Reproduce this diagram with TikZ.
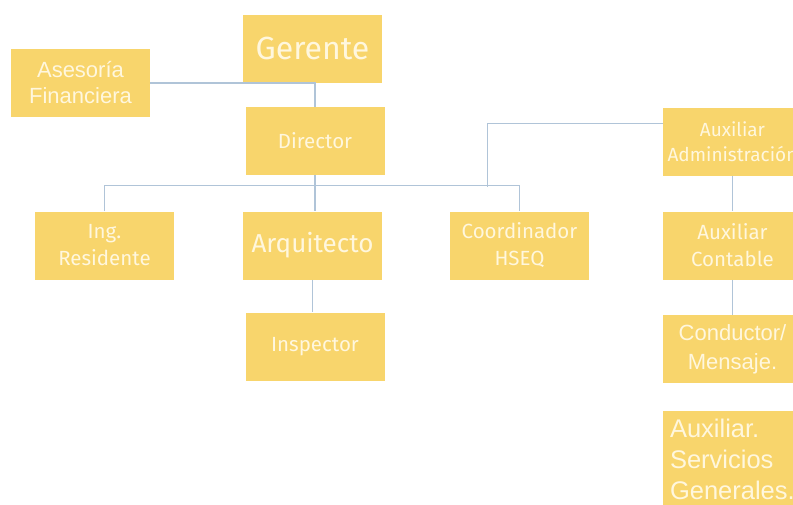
\documentclass[tikz,border=0pt]{standalone}
\usepackage{fontspec}
\newfontfamily\firafont{Fira Sans}
\newfontfamily\arialfont{Liberation Sans}
\definecolor{boxyellow}{RGB}{248,213,108}
\definecolor{boxtext}{RGB}{255,247,222}
\definecolor{linkblue}{RGB}{176,196,216}

\begin{document}
\begin{tikzpicture}[x=1pt,y=-1pt]
				\tikzset{post/.style={
						rectangle,
						fill=boxyellow,
						text=boxtext,
						inner sep=0pt,
						minimum width=139pt,
						minimum height=68pt,
						align=center,
						font=\firafont\fontsize{20.5}{27}\selectfont
					},
					link/.style={draw=linkblue, line width=1.1pt}}
				
				\useasboundingbox (0,0) rectangle (793,504);
				\clip (0,0) rectangle (793,504);
				
				%% MANAGEMENT
				\node[post, font=\firafont\fontsize{32}{36}\selectfont] (Gerente) at (312.5,48.5) {Gerente};
				\node[post, font=\arialfont\fontsize{22}{26}\selectfont] (Asesoria) at (80.5,83) {Asesoría\\Financiera};
				\node[post] (Director) at (315,141) {Director};
				
				%% SITE
				\node[post] (IngRes) at (104.5,245.5) {Ing.\\Residente};
				\node[post, font=\firafont\fontsize{26}{30}\selectfont] (Arquitecto) at (312.5,245.5) {Arquitecto};
				\node[post] (Inspector) at (315,346.5) {Inspector};
				\node[post] (HSEQ) at (519.5,245.5) {Coordinador\\HSEQ};
				
				%% OFFICE
				\node[post, font=\firafont\fontsize{19}{25}\selectfont] (AuxAdmin) at (732.5,141.5) {Auxiliar\\Administración};
				\node[post] (AuxCont) at (732.5,245.5) {Auxiliar\\Contable};
				\node[post, font=\arialfont\fontsize{22}{29}\selectfont] (Conductor) at (732.5,349) {Conductor/\\Mensaje.};
				\node[post, anchor=north, minimum height=0pt, inner xsep=7pt, inner ysep=8pt, text width=125pt, align=left, font=\arialfont\fontsize{25.5}{31}\selectfont] (AuxServ) at (732.5,411) {Auxiliar.\\Servicios\\Generales.};
				
				\draw[link] (Director.north |- Gerente.south) -- (Director.north);
				\draw[link] (Asesoria.east) -| (Director.north);
				\draw[link] (Director.south) -- (Director.south |- Arquitecto.north);
				\draw[link] (IngRes.north) -- ++(0,-26) -| (HSEQ.north);
				\draw[link] ([yshift=18pt]AuxAdmin.west) -- ++(-175,0) -- ++(0,63);
				\draw[link] (Arquitecto.south) -- (Arquitecto.south |- Inspector.north);
				\draw[link] (AuxAdmin.south) -- (AuxCont.north);
				\draw[link] (AuxCont.south) -- (Conductor.north);
				
			\end{tikzpicture}
\end{document}
